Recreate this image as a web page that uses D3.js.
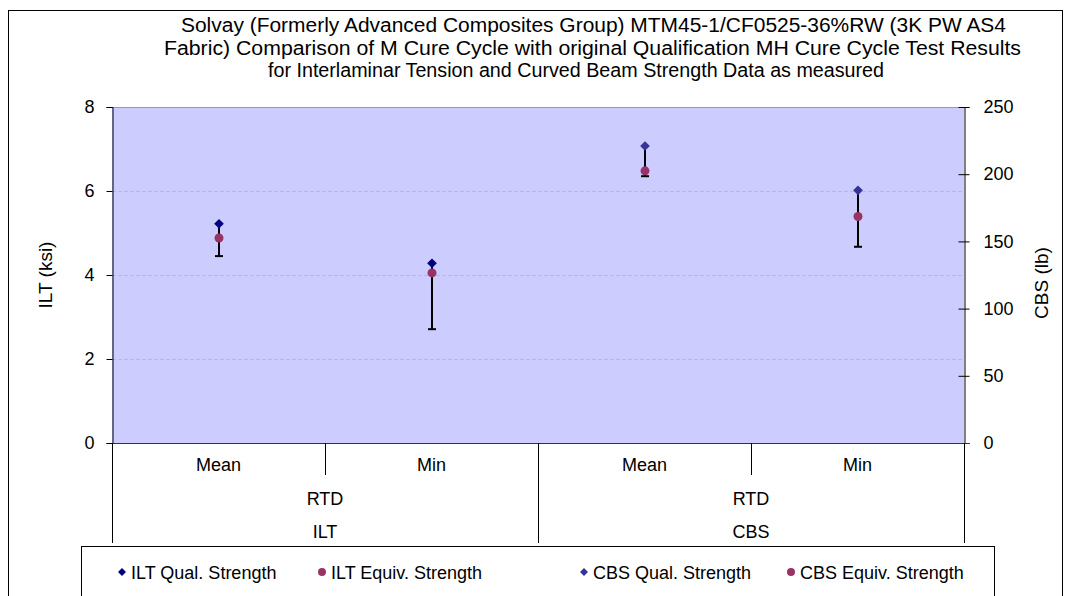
<!DOCTYPE html>
<html><head><meta charset="utf-8">
<script src="https://cdn.jsdelivr.net/npm/d3@7"></script>
<style>body{margin:0;background:#fff}svg{display:block}text{font-family:Arial,"Liberation Sans",sans-serif;fill:#000}</style>
</head><body>
<svg id="c" width="1071" height="596"></svg>
<script>
const titleLines = ["Solvay (Formerly Advanced Composites Group) MTM45-1/CF0525-36%RW (3K PW AS4",
  "Fabric) Comparison of M Cure Cycle with original Qualification MH Cure Cycle Test Results",
  "for Interlaminar Tension and Curved Beam Strength Data as measured"];
const categories = ["Mean", "Min", "Mean", "Min"];
const conditions = ["RTD", "RTD"];
const groups = ["ILT", "CBS"];
const iltQual = [5.22, 4.28, null, null];
const iltEquiv = [4.88, 4.05, null, null];
const iltLow = [4.45, 2.71, null, null];
const cbsQual = [null, null, 221, 188];
const cbsEquiv = [null, null, 202.5, 168.5];
const cbsLow = [null, null, 198.5, 146];
const leftTicks = [0, 2, 4, 6, 8];
const rightTicks = [0, 50, 100, 150, 200, 250];
const legendLabels = ["ILT Qual. Strength", "ILT Equiv. Strength", "CBS Qual. Strength", "CBS Equiv. Strength"];

const svg = d3.select("#c");
const L = 112, R = 964, T = 107, B = 443;
const x = d3.scaleBand().domain(d3.range(categories.length)).range([L, R]);
const yL = d3.scaleLinear().domain([0, 8]).range([B, T]);
const yR = d3.scaleLinear().domain([0, 250]).range([B, T]);

// outer frame
svg.append("rect").attr("x", 8.5).attr("y", 10.5).attr("width", 1054).attr("height", 600)
  .attr("fill", "none").attr("stroke", "#000").attr("stroke-width", 1);

// title
const titleX = [181, 164, 268], titleW = [825, 857, 616];
svg.append("g").selectAll("text").data(titleLines).join("text")
  .attr("x", (d, i) => titleX[i]).attr("y", (d, i) => 32 + i * 22.5)
  .attr("textLength", (d, i) => titleW[i]).attr("lengthAdjust", "spacingAndGlyphs")
  .style("font-size", "19.5px").text(d => d);

// plot bg
svg.append("rect").attr("x", L).attr("y", T).attr("width", R - L).attr("height", B - T).attr("fill", "#CCCCFF");

// gridlines
svg.append("g").selectAll("line").data(leftTicks.filter(d => d > 0)).join("line")
  .attr("x1", L).attr("x2", R).attr("y1", d => Math.round(yL(d)) + 0.5).attr("y2", d => Math.round(yL(d)) + 0.5)
  .attr("stroke", d => d === 8 ? "#999" : "#BDBDB0").attr("stroke-dasharray", d => d === 8 ? null : "4,2");

// left axis
const gL = svg.append("g").attr("transform", `translate(${L + 0.5},0)`)
  .call(d3.axisLeft(yL).tickValues(leftTicks).tickSize(6).tickPadding(12).tickFormat(d3.format("d")));
gL.select(".domain").attr("stroke", "#000");
gL.selectAll("text").style("font-size", "18px").attr("font-family", "Arial, Liberation Sans, sans-serif");

// right axis
const gR = svg.append("g").attr("transform", `translate(${R + 0.5},0)`)
  .call(d3.axisRight(yR).tickValues(rightTicks).tickSize(5).tickPadding(14).tickFormat(d3.format("d")));
gR.select(".domain").attr("stroke", "#000");
gR.selectAll(".tick line").attr("x1", -6);
gR.selectAll("text").style("font-size", "18px").attr("font-family", "Arial, Liberation Sans, sans-serif");

// bottom baseline
svg.append("line").attr("x1", L).attr("x2", R + 5).attr("y1", B + 0.5).attr("y2", B + 0.5).attr("stroke", "#333");
// category separators
const bounds = [L, x(1), x(2), x(3), R];
svg.append("g").selectAll("line").data(bounds).join("line")
  .attr("x1", d => Math.round(d) + 0.5).attr("x2", d => Math.round(d) + 0.5)
  .attr("y1", B).attr("y2", (d, i) => (i === 1 || i === 3) ? 475 : 543)
  .attr("stroke", "#000");

// category labels
svg.append("g").selectAll("text").data(categories).join("text")
  .attr("x", (d, i) => x(i) + x.bandwidth() / 2).attr("y", 471).attr("text-anchor", "middle")
  .style("font-size", "18px").text(d => d);
svg.append("g").selectAll("text").data(conditions).join("text")
  .attr("x", (d, i) => x(i * 2 + 1)).attr("y", 505).attr("text-anchor", "middle")
  .style("font-size", "18px").text(d => d);
svg.append("g").selectAll("text").data(groups).join("text")
  .attr("x", (d, i) => x(i * 2 + 1)).attr("y", 538).attr("text-anchor", "middle")
  .style("font-size", "18px").text(d => d);

const diamond = d3.symbol().type(d3.symbolDiamond2);
const cx = i => x(i) + x.bandwidth() / 2 + 0.5;

function drawSeries(qual, equiv, low, y, qColor) {
  const idx = d3.range(categories.length).filter(i => qual[i] != null);
  const g = svg.append("g");
  g.selectAll("line.e").data(idx).join("line")
    .attr("x1", cx).attr("x2", cx).attr("y1", i => y(qual[i])).attr("y2", i => y(low[i]))
    .attr("stroke", "#000").attr("stroke-width", 2);
  g.selectAll("line.c").data(idx).join("line")
    .attr("x1", i => cx(i) - 4).attr("x2", i => cx(i) + 4).attr("y1", i => y(low[i])).attr("y2", i => y(low[i]))
    .attr("stroke", "#000").attr("stroke-width", 2);
  g.selectAll("path").data(idx).join("path")
    .attr("d", diamond.size(60)).attr("transform", i => `translate(${cx(i)},${y(qual[i])})`)
    .attr("fill", qColor);
  g.selectAll("circle").data(idx).join("circle")
    .attr("cx", cx).attr("cy", i => y(equiv[i])).attr("r", 4.5).attr("fill", "#993366");
}
drawSeries(iltQual, iltEquiv, iltLow, yL, "#000080");
drawSeries(cbsQual, cbsEquiv, cbsLow, yR, "#333399");

// axis titles
svg.append("text").attr("transform", "translate(52,275) rotate(-90)").attr("text-anchor", "middle")
  .style("font-size", "19px").text("ILT (ksi)");
svg.append("text").attr("transform", "translate(1048,283) rotate(-90)").attr("text-anchor", "middle")
  .style("font-size", "19px").text("CBS  (lb)");

// legend
svg.append("rect").attr("x", 81.5).attr("y", 546.5).attr("width", 913).attr("height", 80)
  .attr("fill", "#fff").attr("stroke", "#000");
const legX = [122, 322, 584, 791];
const legColors = ["#000080", "#993366", "#333399", "#993366"];
const lg = svg.append("g").selectAll("g").data(legendLabels).join("g")
  .attr("transform", (d, i) => `translate(${legX[i]},572)`);
lg.append("path").attr("d", (d, i) => (i % 2 === 0 ? d3.symbol().type(d3.symbolDiamond2).size(40) : d3.symbol().type(d3.symbolCircle).size(50))())
  .attr("fill", (d, i) => legColors[i]);
lg.append("text").attr("x", 9).attr("y", 6.5).style("font-size", "18px").text(d => d);
</script>
</body></html>
